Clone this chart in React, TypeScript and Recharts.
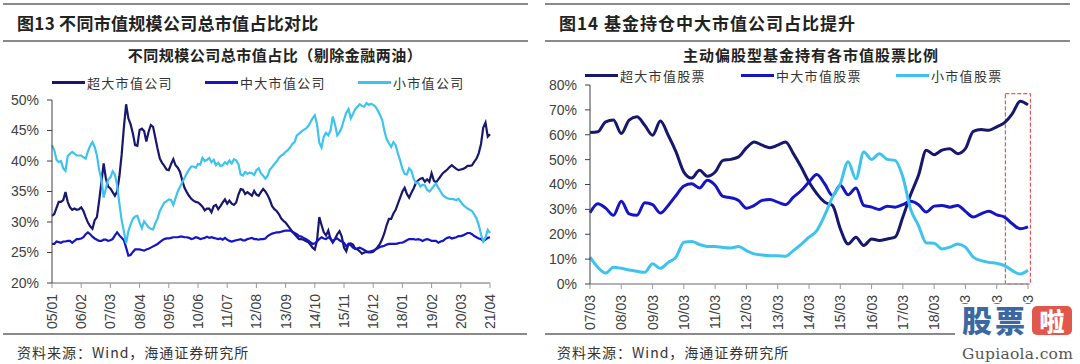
import React from 'react';
import { LineChart, Line, XAxis, YAxis, ReferenceArea } from 'recharts';

// ---- left chart: monthly, 2005/01 .. 2021/04 ----
const leftTickLabels = ['05/01', '06/02', '07/03', '08/04', '09/05', '10/06', '11/07', '12/08', '13/09', '14/10', '15/11', '16/12', '18/01', '19/02', '20/03', '21/04'];
const leftYTicks = [20, 25, 30, 35, 40, 45, 50];

const leftBig = [
  31.0, 31.3, 32.3, 33.3, 33.3, 33.6, 34.9, 33.3, 32.4, 32.0, 32.2, 32.0, 32.1, 32.4, 31.8, 30.8,
  29.9, 29.3, 28.9, 30.3, 30.8, 33.5, 36.5, 39.6, 37.1, 35.8, 35.5, 34.9, 34.3, 35.0, 37.5, 41.0,
  45.5, 49.3, 47.0, 46.0, 44.5, 42.6, 42.5, 45.1, 45.3, 44.9, 43.2, 44.8, 45.9, 45.6, 43.8, 42.0,
  40.4, 39.7, 39.2, 38.6, 38.5, 39.5, 40.3, 39.3, 38.9, 38.2, 36.8, 35.6, 34.9, 34.3, 33.8, 33.5,
  33.3, 33.2, 32.9, 32.5, 31.9, 32.2, 32.2, 31.6, 32.6, 32.8, 32.1, 32.6, 33.2, 33.7, 33.0, 33.5,
  33.0, 32.8, 33.2, 34.5, 35.4, 35.3, 34.6, 34.9, 34.6, 34.3, 35.1, 34.5, 34.3, 34.9, 35.4, 35.0,
  34.4, 33.6, 32.6, 32.1, 31.8, 31.3, 30.6, 30.2, 29.9, 29.4, 28.9, 28.4, 28.0, 27.6, 27.2, 27.2,
  27.1, 26.9, 26.7, 26.3, 25.8, 25.5, 27.0, 30.8, 29.5, 28.3, 27.8, 28.6, 27.2, 26.6, 27.2, 28.0,
  28.5, 27.6, 25.8, 25.2, 26.4, 26.5, 26.3, 25.6, 25.5, 25.2, 24.8, 25.0, 25.1, 25.0, 25.0, 25.1,
  25.5, 25.9, 26.4, 27.2, 28.2, 29.5, 30.5, 30.5, 31.4, 32.0, 33.0, 34.0, 35.0, 35.6, 34.6, 34.0,
  34.8, 35.5, 36.4, 36.8, 37.1, 37.2, 36.6, 37.0, 36.6, 38.0, 36.8, 36.5, 37.0, 37.5, 38.0, 38.3,
  38.6, 39.0, 39.3, 39.0, 38.7, 38.5, 38.6, 38.7, 38.9, 39.2, 39.2, 39.3, 39.9, 40.4, 41.3, 42.8,
  45.5, 46.3, 44.0, 44.4,
];

const leftMid = [
  26.4, 26.4, 26.8, 26.7, 26.6, 26.8, 26.8, 26.9, 26.9, 26.6, 26.9, 27.2, 27.2, 27.3, 27.5, 28.0,
  28.3, 28.0, 27.6, 27.3, 27.1, 26.9, 26.9, 27.1, 27.1, 26.9, 27.0, 27.2, 27.8, 28.3, 27.8, 27.4,
  27.0, 25.8, 24.5, 24.6, 25.1, 25.5, 25.5, 25.5, 25.4, 25.3, 25.5, 25.6, 25.8, 26.0, 26.2, 26.4,
  26.7, 27.0, 27.2, 27.3, 27.3, 27.4, 27.5, 27.5, 27.5, 27.6, 27.6, 27.5, 27.5, 27.4, 27.2, 27.3,
  27.5, 27.4, 27.2, 27.3, 27.4, 27.6, 27.4, 27.5, 27.4, 27.3, 27.2, 27.3, 27.1, 27.4, 27.1, 26.9,
  26.8, 26.9, 27.0, 27.1, 27.2, 27.0, 27.0, 27.2, 27.3, 27.4, 27.2, 27.2, 27.1, 27.2, 27.2, 27.3,
  27.7, 27.9, 28.1, 28.2, 28.3, 28.3, 28.4, 28.5, 28.6, 28.6, 28.6, 28.4, 28.2, 28.0, 27.7, 27.6,
  27.4, 27.2, 27.0, 26.7, 26.4, 26.5, 26.8, 27.2, 27.5, 27.3, 27.2, 27.5, 27.3, 26.8, 27.2, 27.3,
  27.0, 26.8, 26.6, 26.0, 26.4, 26.2, 25.8, 25.6, 25.7, 25.8, 25.6, 25.4, 25.2, 25.1, 25.2, 25.3,
  25.5, 25.7, 25.9, 26.0, 26.1, 26.3, 26.4, 26.4, 26.4, 26.4, 26.5, 26.6, 26.6, 26.8, 27.0, 27.2,
  27.2, 27.2, 27.1, 27.2, 27.1, 26.9, 27.1, 27.2, 27.1, 26.9, 26.9, 26.9, 26.6, 26.8, 26.9, 27.2,
  27.4, 27.5, 27.3, 27.4, 27.5, 27.7, 27.7, 27.8, 28.0, 28.2, 28.2, 28.0, 27.7, 27.5, 27.3, 27.2,
  26.9, 27.1, 27.4, 27.5,
];

const leftSmall = [
  42.6, 41.8, 40.2, 39.8, 40.0, 38.8, 38.4, 40.8, 41.2, 41.5, 41.2, 40.9, 40.9, 40.9, 40.6, 40.4,
  41.6, 42.5, 43.1, 42.3, 40.9, 38.5, 37.0, 34.0, 35.5, 37.0, 37.3, 38.3, 37.8, 36.0, 33.0, 30.3,
  28.5, 26.5, 28.5, 29.6, 30.5, 30.9, 31.0, 29.9, 29.0, 30.1, 29.6, 29.1, 28.9, 28.8, 29.8, 30.6,
  31.8, 32.5, 33.2, 33.4, 33.7, 33.6, 32.8, 33.9, 35.0, 35.8, 36.5, 37.2, 38.0, 38.6, 39.1, 39.1,
  38.9, 39.5, 39.4, 40.5, 40.0, 40.2, 40.5, 39.8, 40.2, 39.3, 39.7, 39.2, 39.3, 39.8, 39.5, 40.1,
  39.6, 40.3, 40.1, 39.5, 37.8, 37.6, 38.2, 37.9, 38.1, 38.0, 37.7, 38.5, 38.8, 38.0, 37.6, 37.1,
  37.6, 38.6, 39.0, 39.5, 39.9, 40.5, 40.9, 41.1, 41.5, 41.8, 42.2, 42.8, 43.1, 44.2, 44.5, 44.8,
  45.1, 45.3, 45.7, 46.3, 47.0, 47.5, 46.0, 43.0, 42.2, 44.0, 44.6, 44.2, 45.0, 47.3, 46.0, 44.2,
  44.7, 45.5, 46.8, 47.9, 48.5, 47.0, 47.7, 48.5, 48.9, 49.3, 49.0, 48.9, 49.5, 49.2, 49.4, 49.2,
  48.9, 48.3, 47.6, 46.7, 44.9, 43.6, 42.9, 42.3, 43.1, 42.6, 41.2, 40.1, 38.7, 37.9, 37.8, 38.8,
  38.4, 37.1, 36.4, 36.5, 35.8, 36.1, 36.0, 35.3, 35.0, 35.4, 35.9, 36.3, 35.6, 35.0, 34.4, 34.1,
  33.9, 33.8, 33.8, 33.7, 33.6, 33.8, 33.3, 32.8, 32.5, 32.2, 32.0, 31.8, 31.2, 30.6, 29.5, 28.0,
  26.8, 27.5, 28.7, 28.2,
];

// ---- right chart: quarterly, 2007/03 .. 2021/03 ----
const rightTickLabels = ['07/03', '08/03', '09/03', '10/03', '11/03', '12/03', '13/03', '14/03', '15/03', '16/03', '17/03', '18/03', '19/03', '20/03', '21/03'];
const rightYTicks = [0, 10, 20, 30, 40, 50, 60, 70, 80];

const rightBig = [
  60.9, 61.2, 65.2, 65.9, 60.5, 65.9, 67.2, 63.8, 59.8, 65.5, 59.8, 53.1, 45.0, 42.6, 45.7, 43.3,
  45.0, 49.7, 50.1, 51.1, 54.7, 57.1, 55.8, 54.8, 55.8, 57.1, 52.4, 47.0, 41.0, 36.3, 32.9, 31.6,
  22.2, 16.1, 18.8, 15.5, 18.1, 17.5, 18.1, 18.8, 26.9, 36.0, 43.7, 53.8, 52.0, 53.8, 54.4, 52.4,
  54.4, 61.4, 62.1, 61.8, 63.2, 64.9, 68.5, 73.5, 72.0,
];
const rightMid = [
  28.6, 32.3, 30.5, 27.6, 33.3, 28.2, 27.6, 32.7, 31.9, 28.5, 31.6, 35.6, 39.4, 40.3, 38.6, 41.7,
  39.7, 35.2, 34.7, 33.6, 30.5, 31.6, 33.6, 34.0, 32.9, 31.9, 34.9, 37.6, 41.0, 44.0, 40.3, 35.6,
  39.7, 35.9, 38.6, 31.6, 30.9, 30.0, 31.3, 30.9, 31.9, 33.3, 31.9, 28.9, 31.3, 31.6, 30.9, 31.6,
  29.2, 26.9, 28.2, 29.2, 27.8, 26.9, 24.2, 22.2, 23.0,
];
const rightSmall = [
  10.8, 6.7, 4.4, 6.7, 6.3, 5.6, 5.1, 4.7, 8.1, 6.3, 8.7, 10.8, 16.8, 17.1, 15.9, 15.1,
  15.1, 14.7, 14.5, 15.1, 13.4, 12.1, 11.7, 11.4, 11.4, 11.2, 13.4, 15.9, 18.8, 21.5, 27.6, 34.9,
  40.3, 49.1, 42.3, 53.1, 50.1, 52.4, 50.1, 49.7, 43.0, 30.0, 23.5, 16.5, 16.4, 14.1, 14.8, 16.1,
  14.8, 10.8, 9.4, 8.7, 8.3, 7.4, 5.4, 4.0, 5.5,
];

const leftData = leftBig.map((v, i) => ({ m: i, big: v, mid: leftMid[i], small: leftSmall[i] }));
const rightData = rightBig.map((v, i) => ({ q: i, big: v, mid: rightMid[i], small: rightSmall[i] }));

const FONT_CN = '"Noto Sans CJK SC", "Noto Sans", sans-serif';
const FONT_NUM = '"Liberation Sans", Arial, sans-serif';

const C_BIG = '#17176E';
const C_MID = '#1515C4';
const C_SMALL = '#3EC3EE';
const AXIS_Y = '#404040';
const AXIS_X = '#9a9a9a';

function RotatedTick(props: any) {
  const { x, y, payload, labels, step } = props;
  const label = labels[Math.round(payload.value / step)];
  const ty = y + 4;
  return (
    <text
      x={x}
      y={ty}
      transform={`rotate(-90, ${x}, ${ty})`}
      textAnchor="end"
      dy="0.36em"
      fontSize={14}
      fontFamily={FONT_NUM}
      fill="#404040"
    >
      {label}
    </text>
  );
}

function Rule({ left, top, width }: { left: number; top: number; width: number }) {
  return <div style={{ position: 'absolute', left, top, width, height: 2, background: '#8a8a8a' }} />;
}

function Text({ left, top, size, children, bold, spacing, width, center, color }: any) {
  return (
    <div
      style={{
        position: 'absolute',
        left,
        top,
        width,
        textAlign: center ? 'center' : 'left',
        fontFamily: FONT_CN,
        fontSize: size,
        lineHeight: `${size + 2}px`,
        fontWeight: bold ? 700 : 400,
        letterSpacing: spacing || 0,
        color: color || '#222',
        whiteSpace: 'nowrap',
      }}
    >
      {children}
    </div>
  );
}

function LegendItem({ left, top, color, label }: any) {
  return (
    <div style={{ position: 'absolute', left, top: top - 8, height: 16, display: 'flex', alignItems: 'center' }}>
      <div style={{ width: 33, height: 3, background: color, marginRight: 2 }} />
      <span style={{ fontFamily: FONT_CN, fontSize: 13, letterSpacing: 1.3, color: '#333', whiteSpace: 'nowrap' }}>{label}</span>
    </div>
  );
}

export default function App() {
  const leftTicks = leftTickLabels.map((_, i) => i * 13);
  const rightTicks = rightTickLabels.map((_, i) => i * 4);

  return (
    <div style={{ position: 'absolute', left: 0, top: 0, width: 1080, height: 364, background: '#fff', overflow: 'hidden' }}>
      {/* left panel */}
      <Rule left={3} top={2.5} width={525} />
      <Text left={17} top={13} size={17} bold spacing={0.3}>图13 不同市值规模公司总市值占比对比</Text>
      <Rule left={3} top={39.5} width={525} />
      <Text left={5} top={46} size={15} bold spacing={0.5} width={540} center>不同规模公司总市值占比（剔除金融两油）</Text>
      <LegendItem left={52} top={82.5} color={C_BIG} label="超大市值公司" />
      <LegendItem left={205} top={82.5} color={C_MID} label="中大市值公司" />
      <LegendItem left={358} top={82.5} color={C_SMALL} label="小市值公司" />

      <div style={{ position: 'absolute', left: 0, top: 0 }}>
        <LineChart width={540} height={364} data={leftData} margin={{ top: 100, right: 50, bottom: 36, left: 6 }}>
          <XAxis
            dataKey="m"
            type="number"
            domain={[0, 195]}
            ticks={leftTicks}
            interval={0}
            height={45}
            tickSize={5}
            axisLine={{ stroke: AXIS_X, strokeWidth: 1.5 }}
            tickLine={{ stroke: AXIS_X }}
            tick={(p: any) => <RotatedTick {...p} labels={leftTickLabels} step={13} />}
          />
          <YAxis
            type="number"
            domain={[20, 50]}
            ticks={leftYTicks}
            interval={0}
            width={46}
            tickSize={5}
            tickMargin={8}
            axisLine={{ stroke: AXIS_Y }}
            tickLine={{ stroke: AXIS_Y }}
            tick={{ fontSize: 14, fontFamily: FONT_NUM, fill: '#404040' }}
            tickFormatter={(v: number) => `${v}%`}
          />
          <Line dataKey="big" stroke={C_BIG} strokeWidth={2.2} dot={false} isAnimationActive={false} />
          <Line dataKey="mid" stroke={C_MID} strokeWidth={2.2} dot={false} isAnimationActive={false} />
          <Line dataKey="small" stroke={C_SMALL} strokeWidth={2.2} dot={false} isAnimationActive={false} />
        </LineChart>
      </div>
      <Rule left={3} top={333} width={524} />
      <Text left={17} top={344} size={14} spacing={1} color="#333">资料来源：Wind，海通证券研究所</Text>

      {/* right panel */}
      <Rule left={545} top={2.5} width={525} />
      <Text left={559} top={13} size={17} bold spacing={1}>图14 基金持仓中大市值公司占比提升</Text>
      <Rule left={545} top={39.5} width={525} />
      <Text left={541} top={46} size={15} bold spacing={1} width={540} center>主动偏股型基金持有各市值股票比例</Text>
      <LegendItem left={585} top={75.5} color={C_BIG} label="超大市值股票" />
      <LegendItem left={741} top={75.5} color={C_MID} label="中大市值股票" />
      <LegendItem left={896} top={75.5} color={C_SMALL} label="小市值股票" />

      <div style={{ position: 'absolute', left: 540, top: 0 }}>
        <LineChart width={540} height={364} data={rightData} margin={{ top: 85, right: 52, bottom: 35, left: 4 }}>
          <XAxis
            dataKey="q"
            type="number"
            domain={[0, 56]}
            ticks={rightTicks}
            interval={0}
            height={45}
            tickSize={5}
            axisLine={{ stroke: AXIS_X, strokeWidth: 1.5 }}
            tickLine={{ stroke: AXIS_X }}
            tick={(p: any) => <RotatedTick {...p} labels={rightTickLabels} step={4} />}
          />
          <YAxis
            type="number"
            domain={[0, 80]}
            ticks={rightYTicks}
            interval={0}
            width={46}
            tickSize={5}
            tickMargin={8}
            axisLine={{ stroke: AXIS_Y }}
            tickLine={{ stroke: AXIS_Y }}
            tick={{ fontSize: 14, fontFamily: FONT_NUM, fill: '#404040' }}
            tickFormatter={(v: number) => `${v}%`}
          />
          <Line type="monotone" dataKey="big" stroke={C_BIG} strokeWidth={3} dot={false} isAnimationActive={false} />
          <Line type="monotone" dataKey="mid" stroke={C_MID} strokeWidth={3} dot={false} isAnimationActive={false} />
          <Line type="monotone" dataKey="small" stroke={C_SMALL} strokeWidth={3} dot={false} isAnimationActive={false} />
          <ReferenceArea
            x1={53.1}
            x2={56.3}
            y1={0}
            y2={76.5}
            ifOverflow="visible"
            fill="none"
            fillOpacity={0}
            stroke="#E0303A"
            strokeDasharray="4 2"
            strokeWidth={1}
          />
        </LineChart>
      </div>
      <Rule left={545} top={333} width={525} />
      <Text left={557} top={344} size={14} spacing={1} color="#333">资料来源：Wind，海通证券研究所</Text>

      {/* watermark */}
      <div style={{ position: 'absolute', left: 955, top: 304, width: 125, height: 60, background: '#fff' }} />
      <div style={{ position: 'absolute', left: 962, top: 303, fontFamily: FONT_CN, fontSize: 30, fontWeight: 900, lineHeight: '32px', color: '#3B68A3', letterSpacing: 3 }}>股票</div>
      <div style={{ position: 'absolute', left: 1032, top: 306, width: 40, height: 29, borderRadius: 5, background: '#E2574B', color: '#fff', fontFamily: FONT_CN, fontSize: 25, fontWeight: 900, lineHeight: '29px', textAlign: 'center' }}>啦</div>
      <div style={{ position: 'absolute', left: 962, top: 345, fontFamily: '"DejaVu Serif", serif', fontSize: 15.5, lineHeight: '18px', color: '#555', letterSpacing: 0.3 }}>Gupiaola.com</div>
    </div>
  );
}
